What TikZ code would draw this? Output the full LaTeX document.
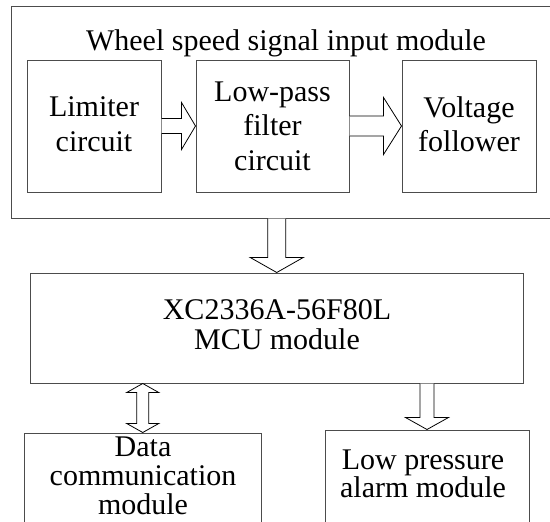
\documentclass[tikz,border=0pt]{standalone}
\usepackage{fontspec}
\setmainfont{Liberation Serif}
\usetikzlibrary{calc}
\begin{document}
\begin{tikzpicture}[x=1pt,y=-1pt,
  box/.style={draw=black!70,line width=1pt,inner sep=0pt},
  txt/.style={font=\fontsize{30}{34.5}\selectfont,align=center,inner sep=0pt},
  blk/.style={draw=black,line width=0.8pt,line join=miter,fill=white}]
\useasboundingbox (0,0) rectangle (550,522);
\clip (0,0) rectangle (550,522);
\fill[white] (0,0) rectangle (550,522);
% boxes
\node[box,minimum width=551pt,minimum height=212pt] (outer) at (286.5,112) {};
\node[box,minimum width=134pt,minimum height=132pt] (lim) at (94,126) {};
\node[box,txt,minimum width=153pt,minimum height=132pt] (lp) at (272.5,126) {Low-pass\\filter\\circuit};
\node[box,minimum width=134pt,minimum height=132pt] (vf) at (469,126) {};
\node[box,minimum width=492.5pt,minimum height=110pt] (mcu) at (276.75,328) {};
\node[box,minimum width=236.5pt,minimum height=107pt] (data) at (142.75,486.5) {};
\node[box,minimum width=204pt,minimum height=110pt] (low) at (427,485) {};
% texts
\node[txt,anchor=base] (title) at (286,50) {Wheel speed signal input module};
\node[txt] (limtxt) at (94,124) {Limiter\\circuit};
\node[txt] (vftxt) at (469,124.3) {Voltage\\follower};
\node[txt,font=\fontsize{30}{30}\selectfont] (mcutxt) at (277,325) {XC2336A-56F80L\\MCU module};
\node[txt,font=\fontsize{30}{29}\selectfont] (datatxt) at (143,476) {Data\\communication\\module};
\node[txt,font=\fontsize{30}{28}\selectfont] (lowtxt) at (423,474) {Low pressure\\alarm module};
% arrows
\draw[blk] ($(lim.east)+(0,-7.5)$) -- ($(lp.west)+(-14,-7.5)$) -- ($(lp.west)+(-14,-23.5)$) -- (lp.west)
  -- ($(lp.west)+(-14,23.5)$) -- ($(lp.west)+(-14,7.5)$) -- ($(lim.east)+(0,7.5)$);
\draw[blk] ($(lp.east)+(0,-10)$) -- ($(vf.west)+(-18,-10)$) -- ($(vf.west)+(-18,-28.5)$) -- (vf.west)
  -- ($(vf.west)+(-18,28.5)$) -- ($(vf.west)+(-18,10)$) -- ($(lp.east)+(0,10)$);
\coordinate (d0) at (mcu.north |- outer.south);
\draw[blk] ($(d0)+(-9,0)$) -- ($(mcu.north)+(-9,-15)$) -- ($(mcu.north)+(-26.5,-15)$) -- (mcu.north)
  -- ($(mcu.north)+(26.5,-15)$) -- ($(mcu.north)+(9,-15)$) -- ($(d0)+(9,0)$);
\coordinate (t0) at (data.north |- mcu.south);
\draw[blk] (t0) -- ($(t0)+(16,9)$) -- ($(t0)+(6,9)$) -- ($(data.north)+(6,-9)$) -- ($(data.north)+(16,-9)$)
  -- (data.north) -- ($(data.north)+(-16,-9)$) -- ($(data.north)+(-6,-9)$) -- ($(t0)+(-6,9)$)
  -- ($(t0)+(-16,9)$) -- cycle;
\coordinate (r0) at (low.north |- mcu.south);
\draw[blk] ($(r0)+(-7,0)$) -- ($(low.north)+(-7,-12)$) -- ($(low.north)+(-21.5,-12)$) -- (low.north)
  -- ($(low.north)+(21.5,-12)$) -- ($(low.north)+(7,-12)$) -- ($(r0)+(7,0)$);
\end{tikzpicture}
\end{document}
